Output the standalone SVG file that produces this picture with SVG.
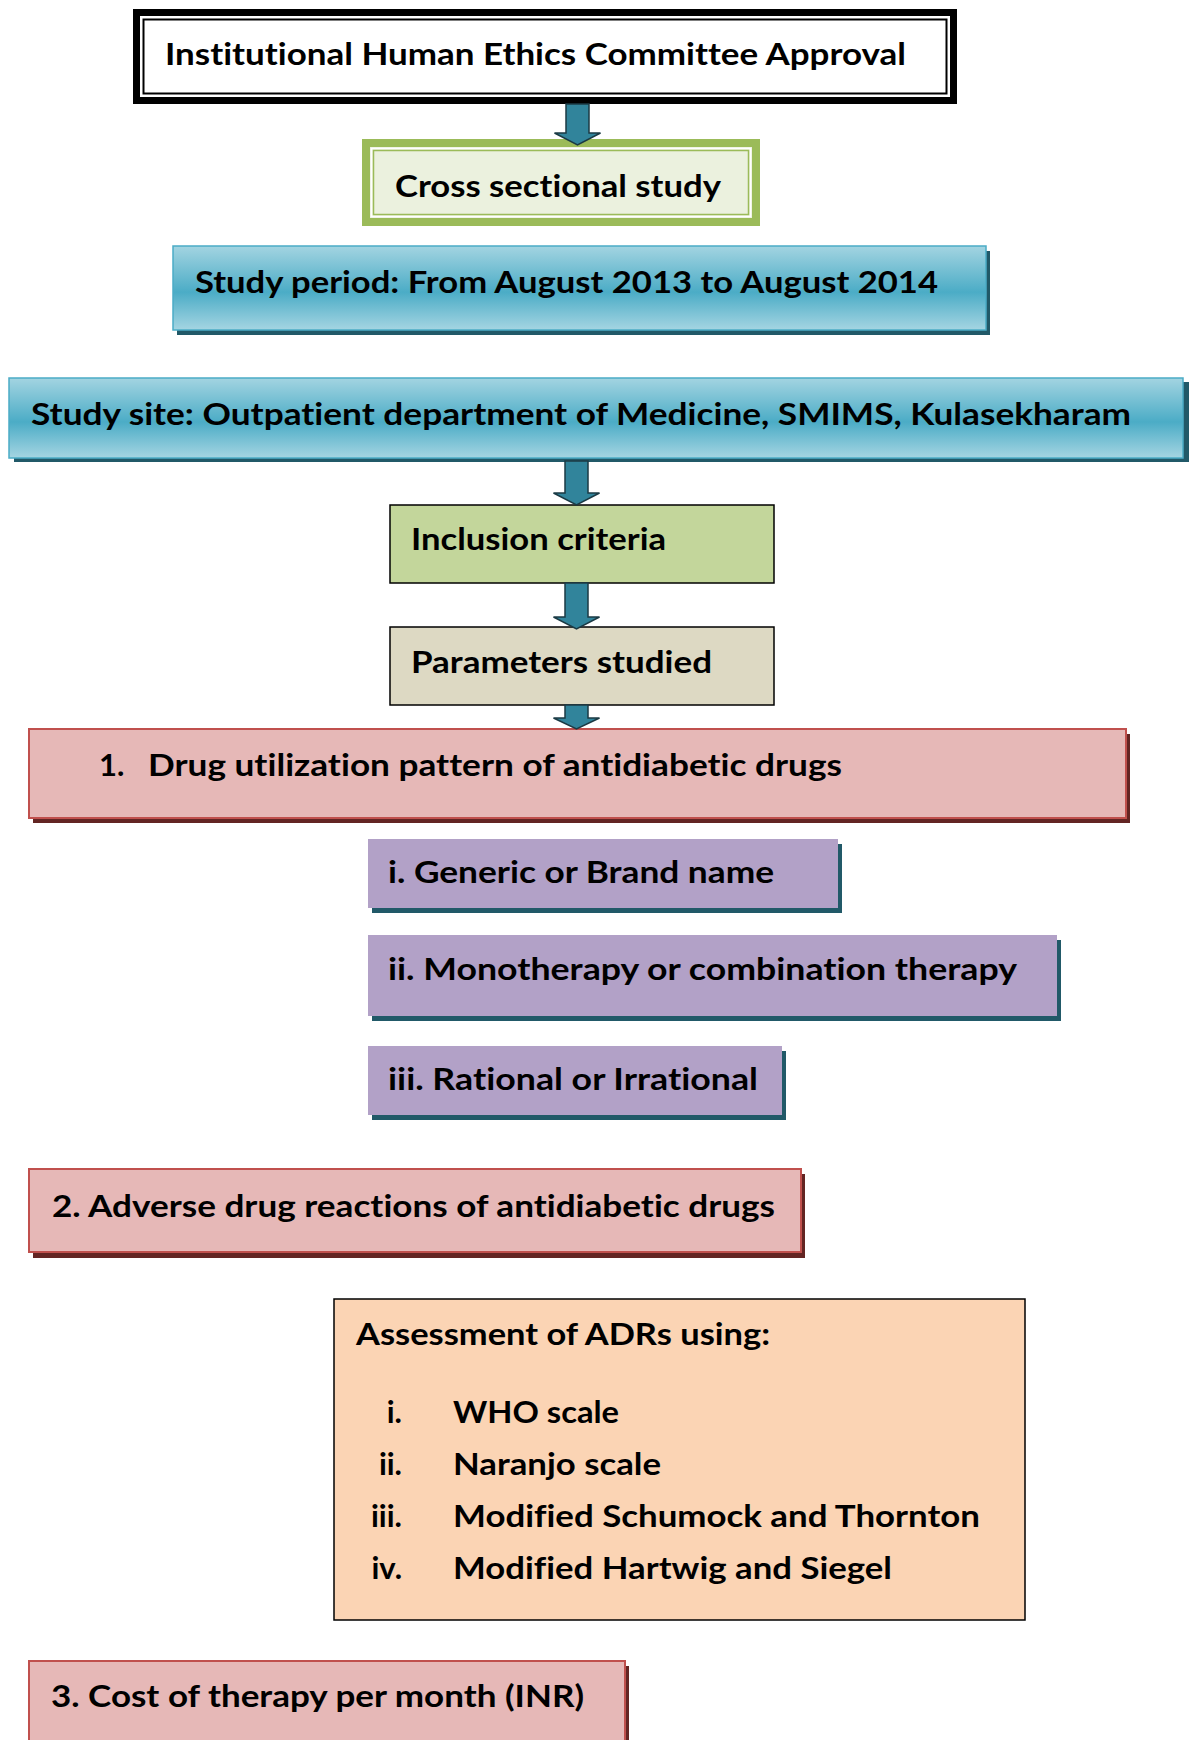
<svg xmlns="http://www.w3.org/2000/svg" width="1194" height="1740" viewBox="0 0 1194 1740">
<style>
text{font-family:Lato,"Liberation Sans",sans-serif;font-weight:bold;font-size:31px;fill:#000;font-variant-ligatures:none;font-feature-settings:"liga" 0,"clig" 0}
.red{fill:#E6B8B7;stroke:#C0504D;stroke-width:2}
.redsh{fill:#632523}
.pur{fill:#B2A1C7}
.tealsh{fill:#215968}
.blue{fill:url(#bg);stroke:#4BACC6;stroke-width:1.5}
.arrow{fill:#31849B;stroke:#1B3A44;stroke-width:1.5;stroke-linejoin:miter}
</style>
<defs>
<linearGradient id="bg" x1="0" y1="0" x2="0" y2="1">
<stop offset="0" stop-color="#A3D4E1"/>
<stop offset="0.55" stop-color="#4BACC6"/>
<stop offset="1" stop-color="#A5D5E2"/>
</linearGradient>
</defs>
<rect width="1194" height="1740" fill="#fff"/>

<g id="ethics">
<rect x="136.5" y="12.5" width="817" height="88" fill="#fff" stroke="#000" stroke-width="7"/>
<rect x="143.5" y="19.5" width="803" height="74" fill="none" stroke="#000" stroke-width="2"/>
<text x="165" y="65" textLength="741" lengthAdjust="spacingAndGlyphs">Institutional Human Ethics Committee Approval</text>
</g>

<g id="cross">
<rect x="366" y="143" width="390" height="79" fill="#EBF1DE" stroke="#9BBB59" stroke-width="8"/>
<rect x="371.5" y="148.5" width="379" height="68" fill="none" stroke="#fff" stroke-width="1.5"/>
<rect x="373.5" y="150.5" width="375" height="64" fill="none" stroke="#9BBB59" stroke-width="1.5"/>
<text x="395" y="197" textLength="326" lengthAdjust="spacingAndGlyphs">Cross sectional study</text>
</g>

<g id="period">
<rect class="tealsh" x="177" y="251" width="813" height="84"/>
<rect class="blue" x="173" y="246" width="813" height="84"/>
<text x="195" y="293" textLength="743" lengthAdjust="spacingAndGlyphs">Study period: From August 2013 to August 2014</text>
</g>

<g id="site">
<rect class="tealsh" x="14" y="382" width="1175" height="80"/>
<rect class="blue" x="9" y="378" width="1174" height="80"/>
<text x="31" y="425" textLength="1100" lengthAdjust="spacingAndGlyphs">Study site: Outpatient department of Medicine, SMIMS, Kulasekharam</text>
</g>

<g id="inclusion">
<rect x="390" y="505" width="384" height="78" fill="#C3D69B" stroke="#000" stroke-width="1.5"/>
<text x="411" y="550" textLength="255" lengthAdjust="spacingAndGlyphs">Inclusion criteria</text>
</g>

<g id="parameters">
<rect x="390" y="627" width="384" height="78" fill="#DDD9C3" stroke="#000" stroke-width="1.5"/>
<text x="411" y="673" textLength="301" lengthAdjust="spacingAndGlyphs">Parameters studied</text>
</g>

<g id="drug-utilization">
<rect class="redsh" x="33" y="734" width="1097" height="89"/>
<rect class="red" x="29" y="729" width="1097" height="89"/>
<text x="99" y="776">1.</text>
<text x="148" y="776" textLength="694" lengthAdjust="spacingAndGlyphs">Drug utilization pattern of antidiabetic drugs</text>
</g>

<g id="generic">
<rect class="tealsh" x="372" y="844" width="470" height="69"/>
<rect class="pur" x="368" y="839" width="470" height="69"/>
<text x="388" y="883" textLength="386" lengthAdjust="spacingAndGlyphs">i. Generic or Brand name</text>
</g>

<g id="mono">
<rect class="tealsh" x="372" y="940" width="689" height="81"/>
<rect class="pur" x="368" y="935" width="689" height="81"/>
<text x="388" y="980" textLength="629" lengthAdjust="spacingAndGlyphs">ii. Monotherapy or combination therapy</text>
</g>

<g id="rational">
<rect class="tealsh" x="372" y="1051" width="414" height="69"/>
<rect class="pur" x="368" y="1046" width="414" height="69"/>
<text x="388" y="1090" textLength="370" lengthAdjust="spacingAndGlyphs">iii. Rational or Irrational</text>
</g>

<g id="adr">
<rect class="redsh" x="33" y="1174" width="772" height="84"/>
<rect class="red" x="29" y="1169" width="772" height="83"/>
<text x="52" y="1217" textLength="723" lengthAdjust="spacingAndGlyphs">2. Adverse drug reactions of antidiabetic drugs</text>
</g>

<g id="assessment">
<rect x="334" y="1299" width="691" height="321" fill="#FBD4B4" stroke="#000" stroke-width="1.5"/>
<text x="356" y="1345" textLength="414" lengthAdjust="spacingAndGlyphs">Assessment of ADRs using:</text>
<text x="402" y="1423" text-anchor="end">i.</text>
<text x="453" y="1423" textLength="166" lengthAdjust="spacingAndGlyphs">WHO scale</text>
<text x="402" y="1475" text-anchor="end">ii.</text>
<text x="453" y="1475" textLength="208" lengthAdjust="spacingAndGlyphs">Naranjo scale</text>
<text x="402" y="1527" text-anchor="end">iii.</text>
<text x="453" y="1527" textLength="527" lengthAdjust="spacingAndGlyphs">Modified Schumock and Thornton</text>
<text x="402" y="1579" text-anchor="end">iv.</text>
<text x="453" y="1579" textLength="439" lengthAdjust="spacingAndGlyphs">Modified Hartwig and Siegel</text>
</g>

<g id="cost">
<rect class="redsh" x="33" y="1666" width="596" height="90"/>
<rect class="red" x="29" y="1661" width="596" height="90"/>
<text x="51" y="1707" textLength="533" lengthAdjust="spacingAndGlyphs">3. Cost of therapy per month (INR)</text>
</g>

<g id="connectors">
<path class="arrow" d="M566,104 L589,104 L589,133 L600.5,133 L577.5,145 L554.5,133 L566,133 Z"/>
<path class="arrow" d="M565,461 L588,461 L588,493 L599.5,493 L576.5,505 L553.5,493 L565,493 Z"/>
<path class="arrow" d="M565,583 L588,583 L588,617 L599.5,617 L576.5,629 L553.5,617 L565,617 Z"/>
<path class="arrow" d="M565,705 L588,705 L588,718 L599.5,718 L576.5,729 L553.5,718 L565,718 Z"/>
</g>
</svg>
